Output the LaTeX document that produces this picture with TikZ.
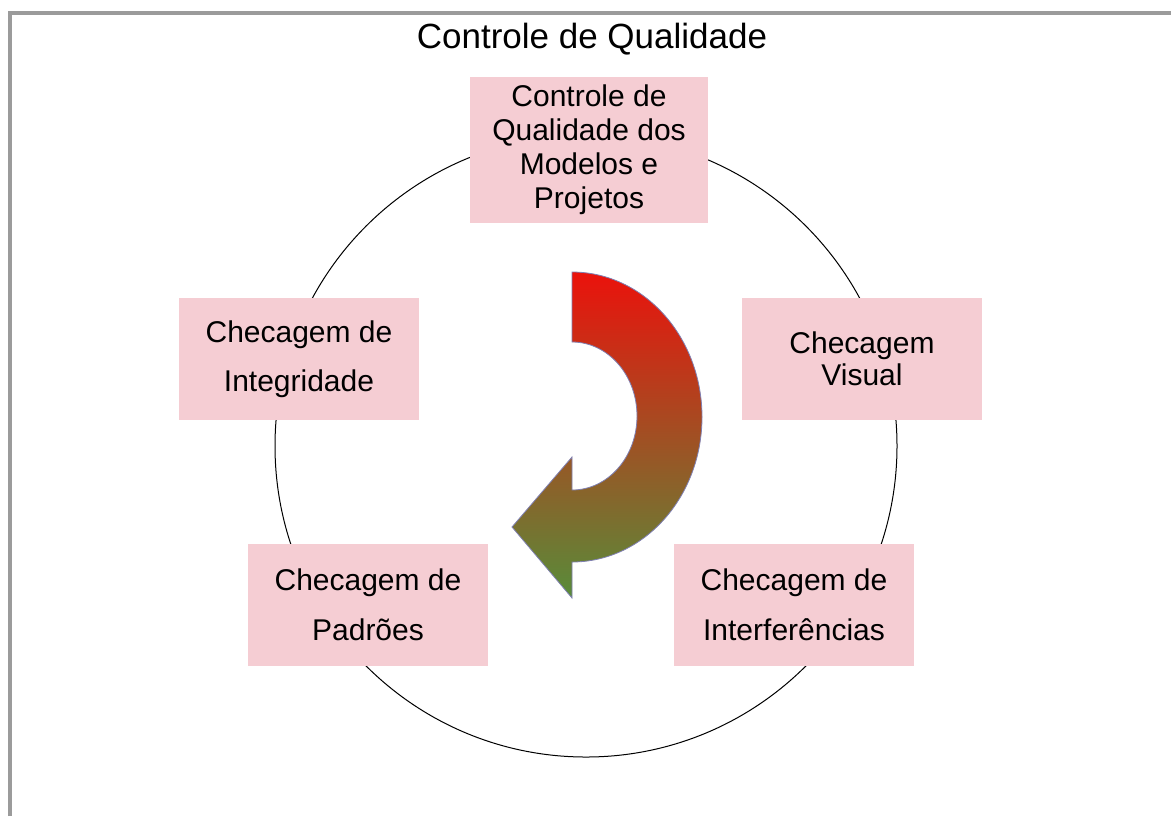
\documentclass[tikz,border=0pt]{standalone}
\usepackage{fontspec}
\setmainfont{Liberation Sans}
\usepackage{xcolor}
\definecolor{rosa}{RGB}{245,205,211}
\definecolor{moldura}{RGB}{155,155,155}
\definecolor{vermelho}{RGB}{235,18,12}
\definecolor{verde}{RGB}{88,140,58}

\begin{document}
\begin{tikzpicture}[x=0.5pt,y=-0.5pt]
    \tikzstyle{etapa}=[rectangle,fill=rosa,inner sep=0pt,align=center,minimum width=120pt,minimum height=61pt,font=\fontsize{15}{17}\selectfont]
    \tikzstyle{titulo}=[font=\fontsize{17.5}{20}\selectfont,anchor=base]
    \useasboundingbox (0,0) rectangle (1171,816);
    % moldura
    \draw[moldura,line width=2pt] (9.5,816) -- (9.5,13) -- (1171,13);
    \node[titulo] (tit) at (592,48) {Controle de Qualidade};
    % ciclo
    \draw[line width=0.5pt] (586,446) circle[radius=311];
    \node[etapa,minimum width=119pt,minimum height=73pt] (modelos) at (589,150) {Controle de\\Qualidade dos\\Modelos e\\Projetos};
    \node[etapa,font=\fontsize{15}{24.5}\selectfont] (integ) at (299,359) {Checagem de\\Integridade};
    \node[etapa,font=\fontsize{15}{16}\selectfont] (visual) at (862,359) {Checagem\\Visual};
    \node[etapa,font=\fontsize{15}{25}\selectfont] (padroes) at (368,605) {Checagem de\\Padrões};
    \node[etapa,font=\fontsize{15}{25}\selectfont] (interf) at (794,605) {Checagem de\\Interferências};
    % seta
    \shade[top color=vermelho,bottom color=verde,draw=black!60!blue!50,line width=0.4pt]
      (572,272) arc[start angle=-90,end angle=90,x radius=130,y radius=145]
      -- (572,598) -- (512,527) -- (572,457) -- (572,490)
      arc[start angle=90,end angle=-90,x radius=65,y radius=74] -- cycle;
\end{tikzpicture}
\end{document}
